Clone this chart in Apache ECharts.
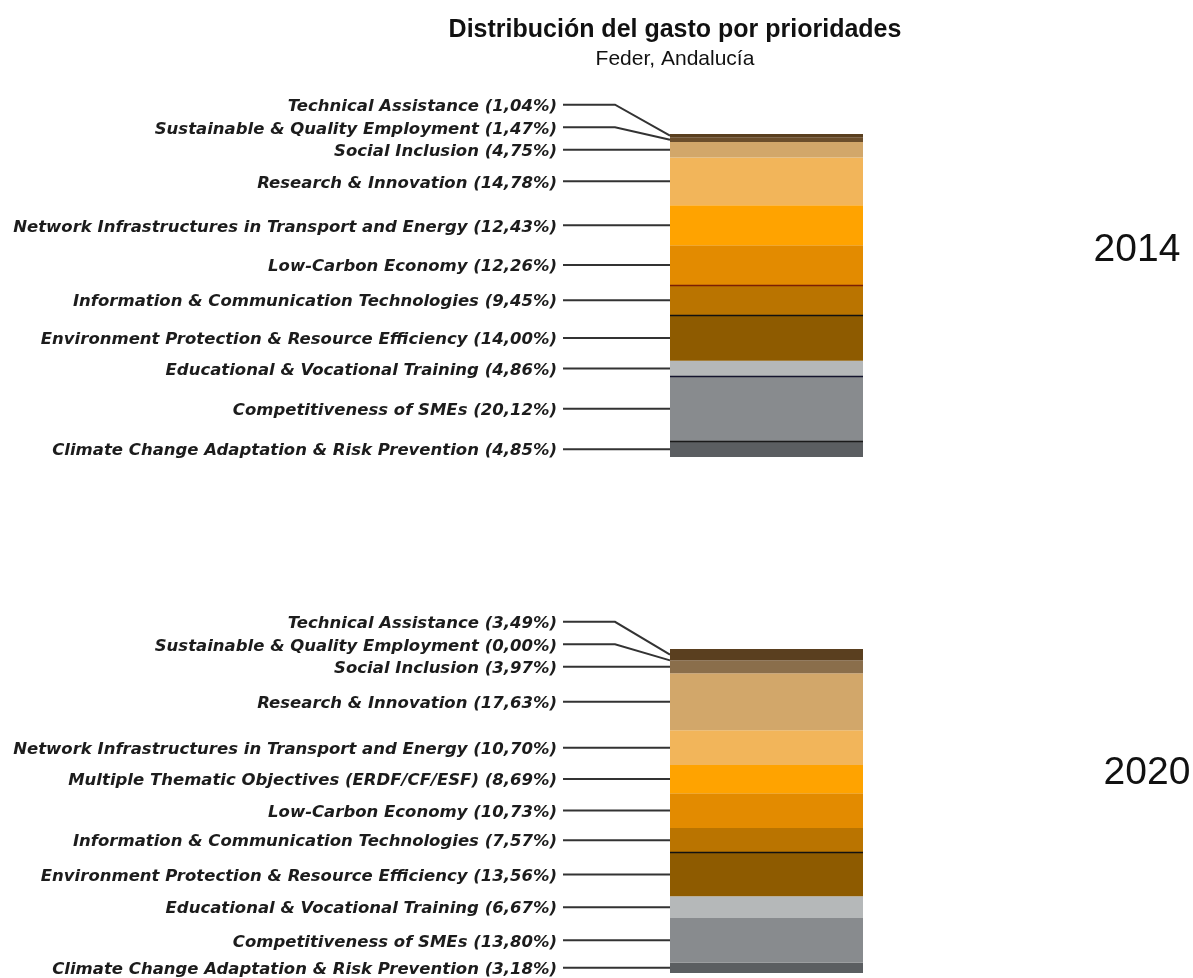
<!DOCTYPE html>
<html>
<head>
<meta charset="utf-8">
<title>Distribución del gasto por prioridades</title>
<script src="https://cdn.jsdelivr.net/npm/echarts@6/dist/echarts.min.js"></script>
<style>
  html, body { margin: 0; padding: 0; background: #ffffff; }
  #chart { width: 1193px; height: 978px; }
</style>
</head>
<body>
<div id="chart"></div>
<script>
// Priorities listed top to bottom, in the order they are stacked (top first)
const priorities2014 = [
  'Technical Assistance',
  'Sustainable & Quality Employment',
  'Social Inclusion',
  'Research & Innovation',
  'Network Infrastructures in Transport and Energy',
  'Low-Carbon Economy',
  'Information & Communication Technologies',
  'Environment Protection & Resource Efficiency',
  'Educational & Vocational Training',
  'Competitiveness of SMEs',
  'Climate Change Adaptation & Risk Prevention'
];
const shares2014 = [1.04, 1.47, 4.75, 14.78, 12.43, 12.26, 9.45, 14.00, 4.86, 20.12, 4.85];

const priorities2020 = [
  'Technical Assistance',
  'Sustainable & Quality Employment',
  'Social Inclusion',
  'Research & Innovation',
  'Network Infrastructures in Transport and Energy',
  'Multiple Thematic Objectives (ERDF/CF/ESF)',
  'Low-Carbon Economy',
  'Information & Communication Technologies',
  'Environment Protection & Resource Efficiency',
  'Educational & Vocational Training',
  'Competitiveness of SMEs',
  'Climate Change Adaptation & Risk Prevention'
];
const shares2020 = [3.49, 0.00, 3.97, 17.63, 10.70, 8.69, 10.73, 7.57, 13.56, 6.67, 13.80, 3.18];

const years = ['2014', '2020'];

// Segment colours, top to bottom
const colors2014 = ['#5a3f1f', '#6b4e2c', '#d2a76a', '#f2b55a', '#ffa300', '#e38b00',
                    '#ba7400', '#8e5b00', '#b5b8b9', '#888b8e', '#5b5e61'];
const colors2020 = ['#5a3f1f', '#5a3f1f', '#8a6e4b', '#d2a76a', '#f2b55a', '#ffa300',
                    '#e38b00', '#ba7400', '#8e5b00', '#b5b8b9', '#888b8e', '#5b5e61'];

// Thin rules drawn along the top edge of some segments
const dividers2014 = {
  'Information & Communication Technologies': '#7a1f05',
  'Environment Protection & Resource Efficiency': '#111111',
  'Competitiveness of SMEs': '#14142e',
  'Climate Change Adaptation & Risk Prevention': '#1a1a1a'
};
const dividers2020 = {
  'Environment Protection & Resource Efficiency': '#111111'
};

const LABEL_FONT = 'italic bold 16.5px "DejaVu Sans"';
const LABEL_GAP = 22.5;     // minimum vertical spacing between labels
const LABEL_OFFSET = 113;   // label right edge, measured left of the bar
const LABEL_NUDGE = 2;      // optical centring of the label text on its leader line
const LINE_START = 107;     // leader line start, left of the bar
const LINE_BEND = 55;       // elbow of the leader line for shifted labels

function fmtShare(v) {
  return v.toFixed(2).replace('.', ',') + '%';
}

function buildPanel(idx, names, values, colors, dividers) {
  const n = names.length;
  const spans = new Array(n);
  const series = [];
  let cum = 0;
  // stack from the bottom segment upwards
  for (let k = n - 1; k >= 0; k--) {
    const start = cum;
    cum += values[k];
    spans[k] = [start, cum];
    const s = {
      type: 'bar',
      name: names[k] + ' ' + years[idx],
      stack: 'total' + idx,
      xAxisIndex: idx,
      yAxisIndex: idx,
      barWidth: '100%',
      data: [values[k]],
      itemStyle: { color: colors[k] },
      silent: true,
      animation: false
    };
    if (dividers[names[k]]) {
      s.markLine = {
        silent: true,
        animation: false,
        symbol: ['none', 'none'],
        label: { show: false },
        lineStyle: { color: dividers[names[k]], width: 1.3, type: 'solid' },
        data: [{ yAxis: cum }]
      };
    }
    series.push(s);
  }

  // labels with leader lines
  series.push({
    type: 'custom',
    xAxisIndex: idx,
    yAxisIndex: idx,
    silent: true,
    animation: false,
    clip: false,
    data: [[0, 0]],
    renderItem: function (params, api) {
      const center = api.coord([0, 0]);
      const band = api.size([1, 0])[0];
      const left = center[0] - band / 2;
      const children = [];
      let prev = Infinity;
      for (let k = n - 1; k >= 0; k--) {
        const anchor = api.coord([0, (spans[k][0] + spans[k][1]) / 2])[1];
        const y = Math.min(anchor, prev - LABEL_GAP);
        prev = y;
        children.push({
          type: 'text',
          style: {
            text: names[k] + ' (' + fmtShare(values[k]) + ')',
            x: left - LABEL_OFFSET,
            y: y + LABEL_NUDGE,
            align: 'right',
            verticalAlign: 'middle',
            font: LABEL_FONT,
            fill: '#1c1c1c'
          }
        });
        const pts = Math.abs(anchor - y) < 0.5
          ? [[left - LINE_START, y], [left, y]]
          : [[left - LINE_START, y], [left - LINE_BEND, y], [left, anchor]];
        children.push({
          type: 'polyline',
          shape: { points: pts },
          style: { stroke: '#333333', lineWidth: 2, fill: null }
        });
      }
      return { type: 'group', children: children };
    }
  });
  return series;
}

const chart = echarts.init(document.getElementById('chart'), null, { renderer: 'canvas' });

const option = {
  backgroundColor: '#ffffff',
  animation: false,
  grid: [
    { left: 670, width: 193, top: 134, height: 323 },
    { left: 670, width: 193, top: 649, height: 324 }
  ],
  xAxis: [
    { type: 'category', gridIndex: 0, data: [years[0]], show: false },
    { type: 'category', gridIndex: 1, data: [years[1]], show: false }
  ],
  yAxis: [
    { type: 'value', gridIndex: 0, min: 0, max: 100, show: false },
    { type: 'value', gridIndex: 1, min: 0, max: 100, show: false }
  ],
  graphic: [
    {
      type: 'text', x: 675, y: 30, silent: true,
      style: {
        text: 'Distribución del gasto por prioridades',
        align: 'center', verticalAlign: 'middle',
        font: 'bold 25px "Liberation Sans"', fill: '#111111'
      }
    },
    {
      type: 'text', x: 675, y: 59, silent: true,
      style: {
        text: 'Feder, Andalucía',
        align: 'center', verticalAlign: 'middle',
        font: '21px "Liberation Sans"', fill: '#111111'
      }
    },
    {
      type: 'text', x: 1137, y: 250, silent: true,
      style: {
        text: years[0], align: 'center', verticalAlign: 'middle',
        font: '39px "Liberation Sans"', fill: '#111111'
      }
    },
    {
      type: 'text', x: 1147, y: 773, silent: true,
      style: {
        text: years[1], align: 'center', verticalAlign: 'middle',
        font: '39px "Liberation Sans"', fill: '#111111'
      }
    }
  ],
  series: [].concat(
    buildPanel(0, priorities2014, shares2014, colors2014, dividers2014),
    buildPanel(1, priorities2020, shares2020, colors2020, dividers2020)
  )
};

chart.setOption(option);
</script>
</body>
</html>
